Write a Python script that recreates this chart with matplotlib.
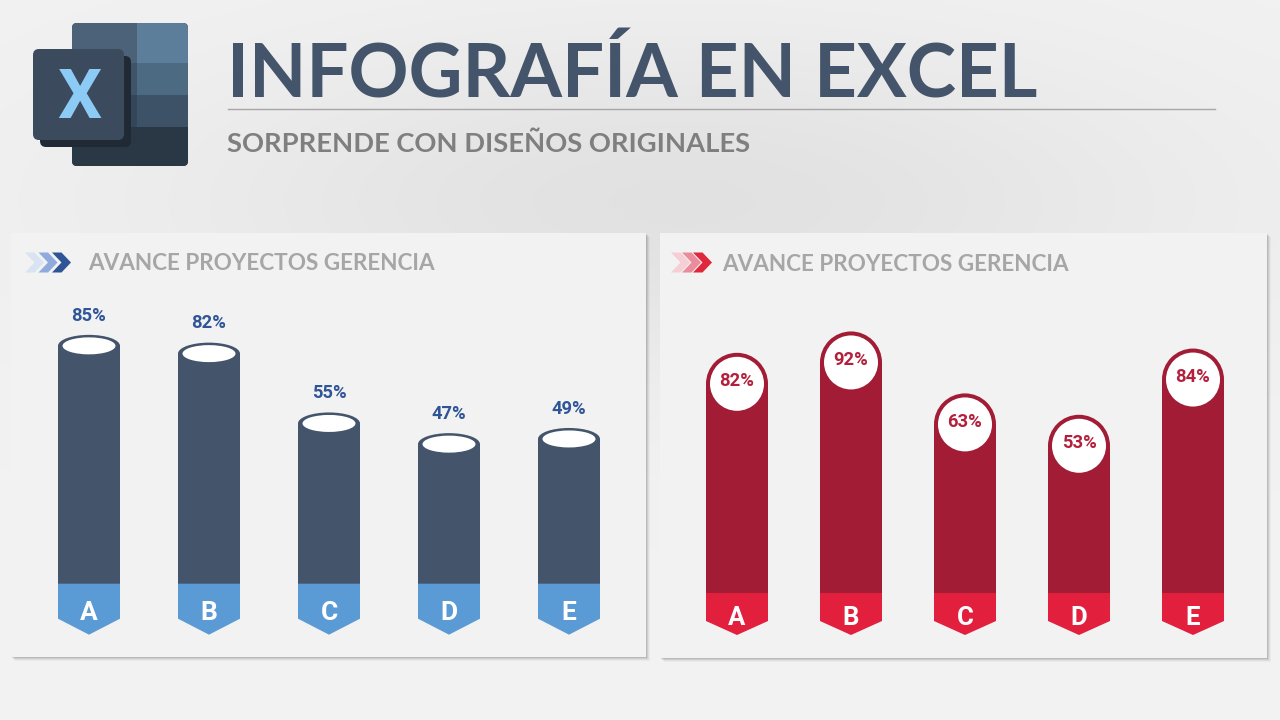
import numpy as np
import matplotlib
matplotlib.use('Agg')
import matplotlib.pyplot as plt
from matplotlib.patches import Rectangle, Ellipse, Polygon, FancyBboxPatch

# data
categories = ['A', 'B', 'C', 'D', 'E']
left_values = [85, 82, 55, 47, 49]
right_values = [82, 92, 63, 53, 84]
title = 'INFOGRAFÍA EN EXCEL'
subtitle = 'SORPRENDE CON DISEÑOS ORIGINALES'
panel_title = 'AVANCE PROYECTOS GERENCIA'

W, H = 1280, 720
fig = plt.figure(figsize=(12.8, 7.2), dpi=100)

# background axes in pixel units (y down)
bg = fig.add_axes([0, 0, 1, 1])
yy, xx = np.mgrid[0:H:4, 0:W:4]
shade = 0.95 - 0.065 * np.exp(-((xx - 680) / 520.0) ** 2 - ((yy - 200) / 170.0) ** 2)
bg.imshow(np.dstack([shade] * 3), extent=(0, W, H, 0), aspect='auto',
          interpolation='bilinear', zorder=0)
bg.set_xlim(0, W)
bg.set_ylim(H, 0)
bg.axis('off')


def rounded(x0, y0, x1, y1, color, r=5, z=2):
    p = FancyBboxPatch((x0 + r, y0 + r), x1 - x0 - 2 * r, y1 - y0 - 2 * r,
                       boxstyle=f'round,pad={r}', fc=color, ec='none', zorder=z)
    bg.add_patch(p)
    return p


# excel logo
back = rounded(72, 23, 188, 166, '#2A3744', r=5, z=2)
bands = [(23, 63, '#4B6279', '#5C7E9A'),
         (63, 95, '#405468', '#4D6A83'),
         (95, 127, '#34465A', '#3D5267'),
         (127, 166, '#2A3744', '#2A3744')]
for y0, y1, cl, cr in bands:
    for x0, x1, c in [(72, 137, cl), (137, 188, cr)]:
        rect = Rectangle((x0, y0), x1 - x0, y1 - y0, fc=c, ec='none', zorder=3)
        bg.add_patch(rect)
        rect.set_clip_path(back)
rounded(40, 56, 131, 147, '#1F2A35', r=6, z=4)
rounded(33, 49, 124, 140, '#3B4A5C', r=6, z=5)
bg.text(79, 118, 'X', family='Roboto', fontweight='bold', fontsize=50,
        color='#8CCBF5', ha='center', va='baseline', zorder=6)

# header
bg.text(227, 97, title, family='Lato', fontweight='bold', fontsize=53.6,
        color='#44546A', va='baseline', zorder=3)
bg.plot([228, 1215], [109, 109], color='#A6A6A6', lw=1, zorder=3)
bg.text(227, 152, subtitle, family='Lato', fontweight='bold', fontsize=19.7,
        color='#7F7F7F', va='baseline', zorder=3)


def panel(x0, y0, x1, y1):
    for k, a in zip([6, 5, 4, 3, 2], [0.05, 0.08, 0.12, 0.16, 0.22]):
        bg.add_patch(Rectangle((x0 + k - 2, y0 + k - 2), x1 - x0, y1 - y0,
                               fc='#5A5A5A', ec='none', alpha=a, zorder=1))
    bg.add_patch(Rectangle((x0, y0), x1 - x0, y1 - y0, fc='#F2F2F2',
                           ec='none', zorder=2))


def chevrons(x, yc, colors, step):
    for i, c in enumerate(colors):
        x0 = x + i * step
        pts = [(x0, yc - 10), (x0 + 9.5, yc - 10), (x0 + 19, yc),
               (x0 + 9.5, yc + 10), (x0, yc + 10), (x0 + 9.5, yc)]
        bg.add_patch(Polygon(pts, closed=True, fc=c, ec='none', zorder=3))


panel(11, 233, 646, 657)
panel(660, 233, 1267, 658)
chevrons(25, 262.5, ['#DAE3F3', '#8FAADC', '#2F5597'], 13.5)
chevrons(671, 262.5, ['#F6CED5', '#EA8C9C', '#E0283C'], 11)
bg.text(88, 270, panel_title, family='Lato', fontweight='bold', fontsize=16.2,
        color='#A6A6A6', va='baseline', zorder=3)
bg.text(722, 271, panel_title, family='Lato', fontweight='bold', fontsize=16.2,
        color='#A6A6A6', va='baseline', zorder=3)


def px_axes(x0, y0, x1, y1):
    ax = fig.add_axes([x0 / W, 1 - y1 / H, (x1 - x0) / W, (y1 - y0) / H])
    ax.patch.set_alpha(0)
    ax.axis('off')
    return ax


def px_scale(ax):
    p0 = ax.transData.transform((0, 0))
    p1 = ax.transData.transform((1, 1))
    return p1[0] - p0[0], p1[1] - p0[1]


x = np.arange(len(categories))

# left chart: cylinders
axL = px_axes(29, 290, 629, 650)
axL.set_xlim(-0.5, 4.5)
axL.set_ylim(-32.6, 106.6)
sx, sy = px_scale(axL)
dark_blue = '#44546A'
w = 62 / sx
base = -18 / sy
vals = np.array(left_values)
axL.bar(x, vals - base, bottom=base, width=w, color=dark_blue, zorder=2)
for xi, v, cat in zip(x, vals, categories):
    axL.add_patch(Ellipse((xi, v), 62 / sx, 22 / sy, fc=dark_blue, ec='none', zorder=3))
    axL.add_patch(Ellipse((xi, v), 53 / sx, 17 / sy, fc='white', ec='none', zorder=4))
    axL.annotate(f'{v}%', (xi, v), xytext=(0, 25.3 * 0.72), textcoords='offset points',
                 ha='center', va='baseline', family='Roboto', fontweight='bold',
                 fontsize=13.2, color='#2F5597')
    pts = [(xi - w / 2, base), (xi + w / 2, base), (xi + w / 2, base - 35 / sy),
           (xi, base - 51 / sy), (xi - w / 2, base - 35 / sy)]
    axL.add_patch(Polygon(pts, closed=True, fc='#5B9BD5', ec='none', zorder=3))
    axL.text(xi, base - 36.5 / sy, cat, ha='center', va='baseline', family='Roboto',
             fontweight='bold', fontsize=19, color='white', zorder=5)

# right chart: rounded bars with circles
axR = px_axes(680, 290, 1250, 650)
axR.set_xlim(-0.5, 4.5)
axR.set_ylim(-57.1, 111.4)
sx, sy = px_scale(axR)
red = '#A21C35'
w = 62 / sx
base = -65 / sy
ry = 31 / sy
vals = np.array(right_values)
axR.bar(x, vals - ry - base, bottom=base, width=w, color=red, zorder=2)
for xi, v, cat in zip(x, vals, categories):
    c = (xi, v - ry)
    axR.add_patch(Ellipse(c, 62 / sx, 62 / sy, fc=red, ec='none', zorder=3))
    axR.add_patch(Ellipse(c, 54 / sx, 54 / sy, fc='white', ec='none', zorder=4))
    axR.annotate(f'{v}%', c, xytext=(0, -2.4 * 0.72), textcoords='offset points',
                 ha='center', va='baseline', family='Roboto', fontweight='bold',
                 fontsize=13.2, color='#B3203C', zorder=5)
    pts = [(xi - w / 2, base), (xi + w / 2, base), (xi + w / 2, base - 28 / sy),
           (xi, base - 42 / sy), (xi - w / 2, base - 28 / sy)]
    axR.add_patch(Polygon(pts, closed=True, fc='#E21F3D', ec='none', zorder=3))
    axR.text(xi, base - 32 / sy, cat, ha='center', va='baseline', family='Roboto',
             fontweight='bold', fontsize=18.5, color='white', zorder=5)

fig.savefig('out.png', dpi=100)
